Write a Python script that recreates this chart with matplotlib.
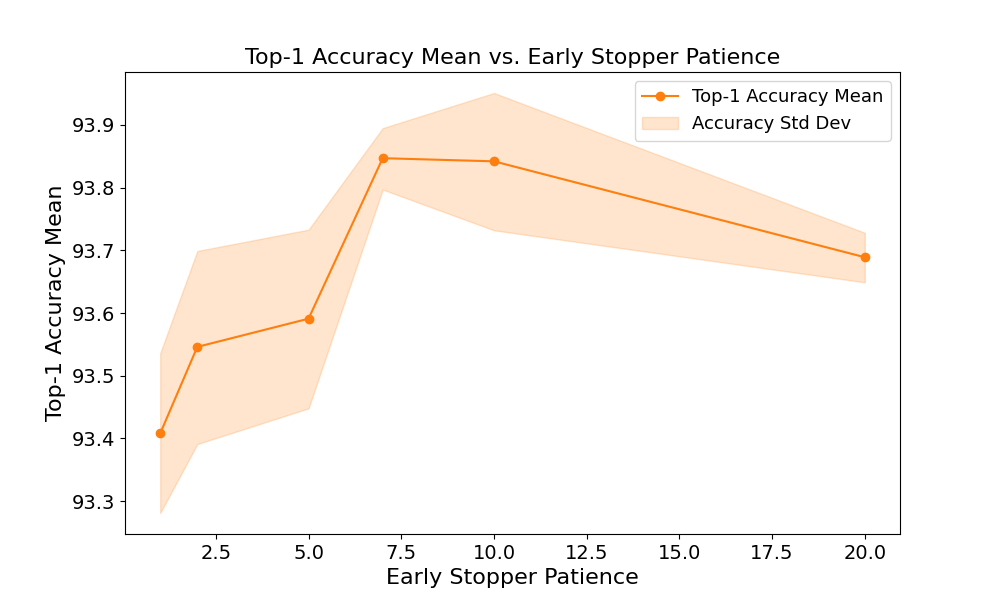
import matplotlib
matplotlib.use("Agg")
import matplotlib.pyplot as plt
import numpy as np

patience = [1, 2, 5, 7, 10, 20]
acc_mean = [93.408, 93.546, 93.591, 93.847, 93.842, 93.689]
acc_upper = [93.536, 93.699, 93.733, 93.895, 93.951, 93.728]
acc_lower = [93.281, 93.391, 93.448, 93.797, 93.732, 93.649]

orange = "#ff7f0e"

fig, ax = plt.subplots(figsize=(10, 6), dpi=100)
ax.plot(patience, acc_mean, marker="o", color=orange, label="Top-1 Accuracy Mean")
ax.fill_between(patience, acc_lower, acc_upper, color=orange, alpha=0.2,
                label="Accuracy Std Dev")

ax.set_title("Top-1 Accuracy Mean vs. Early Stopper Patience", fontsize=16)
ax.set_xlabel("Early Stopper Patience", fontsize=16)
ax.set_ylabel("Top-1 Accuracy Mean", fontsize=16)
ax.tick_params(axis="both", labelsize=14)
ax.legend(fontsize=13)

plt.savefig("out.png", dpi=100)
